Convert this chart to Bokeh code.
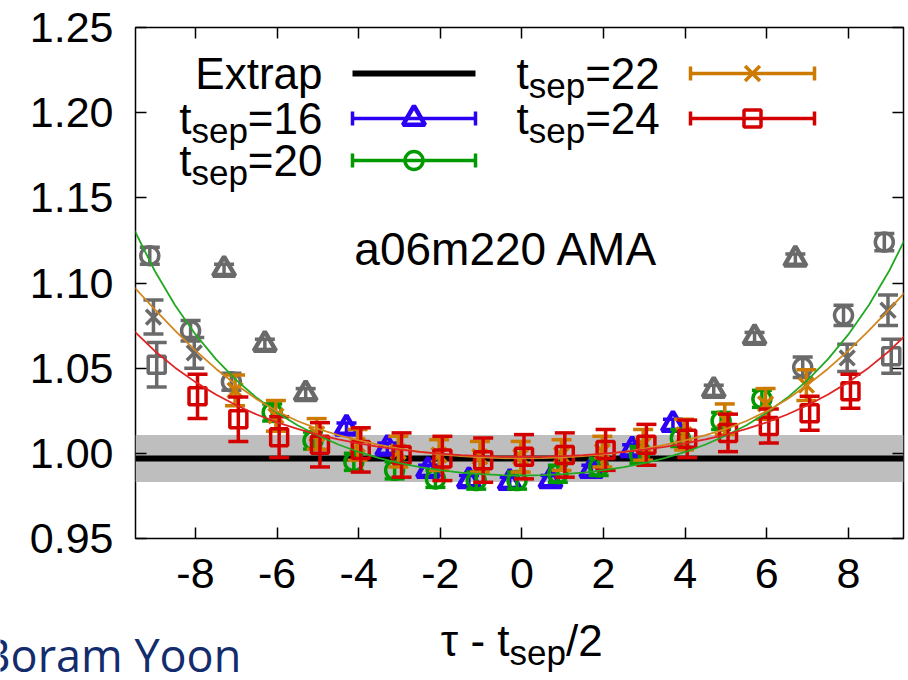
from bokeh.plotting import figure
from bokeh.models import FixedTicker, LinearAxis, Range1d, Label, BoxAnnotation, Span
from bokeh.layouts import column
from bokeh.embed import file_html
from bokeh.resources import INLINE

# ---------------- data ----------------
x_ticks = [-8, -6, -4, -2, 0, 2, 4, 6, 8]
x_tick_labels = ["-8", "-6", "-4", "-2", "0", "2", "4", "6", "8"]
y_ticks = [0.95, 1.00, 1.05, 1.10, 1.15, 1.20, 1.25]
y_tick_labels = ["0.95", "1.00", "1.05", "1.10", "1.15", "1.20", "1.25"]

extrap_value = 0.997
extrap_err = 0.0138

# t_sep = 16 (triangles)
ts16_x = [-7.3, -6.3, -5.3, -4.3, -3.3, -2.3, -1.3, -0.3, 0.7, 1.7, 2.7, 3.7, 4.7, 5.7, 6.7]
ts16_y = [1.108, 1.064, 1.035, 1.0148, 1.003, 0.990, 0.984, 0.983, 0.984, 0.990, 1.002, 1.017, 1.037, 1.068, 1.114]
ts16_e = [0.003, 0.003, 0.003, 0.003, 0.003, 0.003, 0.003, 0.003, 0.003, 0.003, 0.003, 0.003, 0.003, 0.003, 0.003]
ts16_fit = [0, 0, 0, 1, 1, 1, 1, 1, 1, 1, 1, 1, 0, 0, 0]

# t_sep = 20 (circles)
ts20_x = [-9.12, -8.12, -7.12, -6.12, -5.12, -4.12, -3.12, -2.12, -1.12, -0.12, 0.88, 1.88, 2.88, 3.88, 4.88, 5.88, 6.88, 7.88, 8.88]
ts20_y = [1.116, 1.072, 1.042, 1.024, 1.0075, 0.995, 0.990, 0.985, 0.984, 0.984, 0.988, 0.992, 0.999, 1.009, 1.019, 1.032, 1.0505, 1.081, 1.124]
ts20_e = [0.005, 0.006, 0.005, 0.005, 0.005, 0.005, 0.005, 0.005, 0.005, 0.005, 0.005, 0.005, 0.005, 0.005, 0.005, 0.005, 0.006, 0.006, 0.005]
ts20_fit = [0, 0, 0, 1, 1, 1, 1, 1, 1, 1, 1, 1, 1, 1, 1, 1, 0, 0, 0]

# t_sep = 22 (crosses)
ts22_x = [-9.03, -8.03, -7.03, -6.03, -5.03, -4.03, -3.03, -2.03, -1.03, -0.03, 0.97, 1.97, 2.97, 3.97, 4.97, 5.97, 6.97, 7.97, 8.97]
ts22_y = [1.080, 1.059, 1.037, 1.022, 1.0114, 1.005, 1.001, 0.999, 0.998, 0.998, 0.999, 1.001, 1.005, 1.011, 1.020, 1.029, 1.040, 1.056, 1.084]
ts22_e = [0.010, 0.009, 0.009, 0.009, 0.009, 0.009, 0.009, 0.009, 0.009, 0.009, 0.009, 0.009, 0.009, 0.009, 0.009, 0.009, 0.009, 0.008, 0.009]
ts22_fit = [0, 0, 1, 1, 1, 1, 1, 1, 1, 1, 1, 1, 1, 1, 1, 1, 1, 0, 0]

# t_sep = 24 (squares)
ts24_x = [-8.95, -7.95, -6.95, -5.95, -4.95, -3.95, -2.95, -1.95, -0.95, 0.05, 1.05, 2.05, 3.05, 4.05, 5.05, 6.05, 7.05, 8.05, 9.05]
ts24_y = [1.052, 1.0335, 1.020, 1.0095, 1.005, 1.002, 0.999, 0.997, 0.996, 0.998, 0.999, 1.002, 1.005, 1.0085, 1.012, 1.016, 1.0235, 1.0365, 1.057]
ts24_e = [0.013, 0.013, 0.013, 0.012, 0.013, 0.013, 0.013, 0.013, 0.013, 0.013, 0.013, 0.012, 0.012, 0.011, 0.011, 0.010, 0.010, 0.010, 0.010]
ts24_fit = [0, 1, 1, 1, 1, 1, 1, 1, 1, 1, 1, 1, 1, 1, 1, 1, 1, 1, 0]

# fit curves, read at half-unit steps
curve_x = [-9.5, -9.0, -8.5, -8.0, -7.5, -7.0, -6.5, -6.0, -5.5, -5.0, -4.5, -4.0, -3.5, -3.0, -2.5, -2.0, -1.5, -1.0, -0.5,
           0.0, 0.5, 1.0, 1.5, 2.0, 2.5, 3.0, 3.5, 4.0, 4.5, 5.0, 5.5, 6.0, 6.5, 7.0, 7.5, 8.0, 8.5, 9.0, 9.5]
curve20 = [1.1311, 1.1072, 1.0869, 1.0698, 1.0553, 1.0430, 1.0326, 1.0239, 1.0165, 1.0105, 1.0052, 1.0008, 0.9972, 0.9943, 0.9919, 0.9901, 0.9887, 0.9878, 0.9872,
           0.9870, 0.9872, 0.9878, 0.9887, 0.9901, 0.9919, 0.9943, 0.9972, 1.0008, 1.0052, 1.0105, 1.0165, 1.0239, 1.0326, 1.0430, 1.0553, 1.0698, 1.0869, 1.1072, 1.1311]
curve22 = [1.0975, 1.0845, 1.0720, 1.0603, 1.0497, 1.0402, 1.0318, 1.0247, 1.0190, 1.0144, 1.0107, 1.0076, 1.0049, 1.0027, 1.0009, 0.9994, 0.9984, 0.9976, 0.9972,
           0.9970, 0.9972, 0.9976, 0.9984, 0.9994, 1.0009, 1.0027, 1.0049, 1.0076, 1.0107, 1.0144, 1.0190, 1.0247, 1.0318, 1.0402, 1.0497, 1.0603, 1.0720, 1.0845, 1.0975]
curve24 = [1.0717, 1.0601, 1.0503, 1.0418, 1.0345, 1.0282, 1.0228, 1.0182, 1.0144, 1.0110, 1.0082, 1.0058, 1.0038, 1.0022, 1.0008, 0.9998, 0.9990, 0.9984, 0.9981,
           0.9980, 0.9981, 0.9984, 0.9990, 0.9998, 1.0008, 1.0022, 1.0038, 1.0058, 1.0082, 1.0110, 1.0144, 1.0182, 1.0228, 1.0282, 1.0345, 1.0418, 1.0503, 1.0601, 1.0717]

# ---------------- layout / style ----------------
FONT = "Liberation Sans"
W = 908
H1 = 610          # main chart
H2 = 70           # strip below: axis title + slide footer
FL, FR, FT, FB = 135, 5, 27, 72
FW = W - FL - FR
FH = H1 - FT - FB
XR = (-9.47, 9.35)
YR = (0.95, 1.25)
SX = FW / (XR[1] - XR[0])
SY = FH / (YR[1] - YR[0])


def X(px):  # page pixel -> data x
    return XR[0] + (px - FL) / SX


def Y(py):  # page pixel -> data y
    return YR[1] - (py - FT) / SY


GRAY = "#6a6a6a"
BLUE = "#2c00f2"
GREEN = "#009a00"
ORANGE = "#cc7a00"
RED = "#d40000"

p = figure(width=W, height=H1, x_range=Range1d(*XR), y_range=Range1d(*YR),
           output_backend="svg", toolbar_location=None,
           min_border_left=FL, min_border_right=FR, min_border_top=FT, min_border_bottom=FB)
p.frame_align = False
p.grid.visible = False
p.outline_line_color = "black"
p.outline_line_width = 1.5
p.background_fill_color = "white"
p.border_fill_color = "white"

TICK_FS = "43px"
p.xaxis.ticker = FixedTicker(ticks=x_ticks)
p.xaxis.major_label_overrides = {float(t): s for t, s in zip(x_ticks, x_tick_labels)}
p.yaxis.ticker = FixedTicker(ticks=y_ticks)
p.yaxis.major_label_overrides = {float(t): s for t, s in zip(y_ticks, y_tick_labels)}
for ax in (p.xaxis[0], p.yaxis[0]):
    ax.axis_line_color = None
    ax.major_tick_in = 11
    ax.major_tick_out = 0
    ax.major_tick_line_width = 1.5
    ax.minor_tick_line_color = None
    ax.major_label_text_font = FONT
    ax.major_label_text_font_size = TICK_FS
    ax.major_label_text_color = "black"
p.xaxis.major_label_standoff = 20
p.yaxis.major_label_standoff = 22

for loc, ticks in (("above", x_ticks), ("right", y_ticks)):
    ax = LinearAxis(ticker=FixedTicker(ticks=ticks), axis_line_color=None, major_tick_in=11,
                    major_tick_out=0, major_tick_line_width=1.5, minor_tick_line_color=None,
                    major_label_overrides={float(t): "" for t in ticks},
                    major_label_text_font_size="10px", major_label_standoff=0)
    p.add_layout(ax, loc)

# extrapolated band + line
p.add_layout(BoxAnnotation(bottom=extrap_value - extrap_err, top=extrap_value + extrap_err,
                           fill_color="#bebebe", fill_alpha=1.0, line_color=None, level="underlay"))
p.add_layout(Span(location=extrap_value, dimension="width", line_color="black",
                  line_width=6, level="underlay"))

CAP = 10.0 / SX  # half width of error-bar caps
LW = 3.5


def errbars(xs, ys, es, color, lw=LW):
    lo = [y - e for y, e in zip(ys, es)]
    hi = [y + e for y, e in zip(ys, es)]
    p.segment(x0=xs, y0=lo, x1=xs, y1=hi, line_color=color, line_width=lw)
    p.segment(x0=[x - CAP for x in xs], y0=lo, x1=[x + CAP for x in xs], y1=lo, line_color=color, line_width=lw)
    p.segment(x0=[x - CAP for x in xs], y0=hi, x1=[x + CAP for x in xs], y1=hi, line_color=color, line_width=lw)


MARK = {
    "triangle": dict(marker="triangle", size=22, line_width=4.5),
    "circle": dict(marker="circle", size=18, line_width=LW),
    "x": dict(marker="x", size=21, line_width=LW),
    "square": dict(marker="square", size=17, line_width=LW),
}

series = [
    (ts16_x, ts16_y, ts16_e, ts16_fit, BLUE, "triangle"),
    (ts20_x, ts20_y, ts20_e, ts20_fit, GREEN, "circle"),
    (ts22_x, ts22_y, ts22_e, ts22_fit, ORANGE, "x"),
    (ts24_x, ts24_y, ts24_e, ts24_fit, RED, "square"),
]


def draw_points(xs, ys, es, color, mk):
    if not xs:
        return
    errbars(xs, ys, es, color)
    p.scatter(x=xs, y=ys, line_color=color, fill_alpha=0, **MARK[mk])


# excluded points (gray) first, then points used in the fits
for xs, ys, es, fit, color, mk in series:
    sel = [i for i, f in enumerate(fit) if not f]
    draw_points([xs[i] for i in sel], [ys[i] for i in sel], [es[i] for i in sel], GRAY, mk)
for xs, ys, es, fit, color, mk in series:
    sel = [i for i, f in enumerate(fit) if f]
    draw_points([xs[i] for i in sel], [ys[i] for i in sel], [es[i] for i in sel], color, mk)

# fit curves
p.line(curve_x, curve20, line_color="#22a822", line_width=1.8)
p.line(curve_x, curve22, line_color="#d2861e", line_width=1.8)
p.line(curve_x, curve24, line_color="#e02424", line_width=1.8)

# ---------------- texts ----------------
AW = {'t': 0.278, 's': 0.5, 'e': 0.556, 'p': 0.556, '=': 0.584, '/': 0.278, ' ': 0.278, '-': 0.333,
      '0': 0.556, '1': 0.556, '2': 0.556, '3': 0.556, '4': 0.556, '5': 0.556, '6': 0.556, '7': 0.556,
      '8': 0.556, '9': 0.556}


def tw(s, fs):
    return sum(AW[c] for c in s) * fs


def text(fig, x, y, s, fs, align="left", color="black", font=FONT):
    fig.add_layout(Label(x=x, y=y, text=s, text_font=font, text_font_size=f"{fs}px",
                         text_align=align, text_baseline="middle", text_color=color))


LF = 44
SF = 35
SUB = 12   # subscript drop (px)

# legend
legend_rows_left = [("Extrap", None, None, 73), ("16", BLUE, "triangle", 118), ("20", GREEN, "circle", 160)]
legend_rows_right = [("22", ORANGE, "x", 73), ("24", RED, "square", 118)]

for lab, color, mk, ry in legend_rows_left:
    if color is None:
        text(p, X(322), Y(ry), lab, LF, align="right")
        p.segment(x0=[X(352)], y0=[Y(ry)], x1=[X(475)], y1=[Y(ry)], line_color="black", line_width=6)
        continue
    eq = "=" + lab
    text(p, X(322), Y(ry), eq, LF, align="right")
    xs_ = 322 - tw(eq, LF)
    text(p, X(xs_), Y(ry + SUB), "sep", SF, align="right")
    text(p, X(xs_ - tw("sep", SF)), Y(ry), "t", LF, align="right")

for lab, color, mk, ry in legend_rows_right:
    text(p, X(516), Y(ry), "t", LF)
    text(p, X(516 + tw("t", LF)), Y(ry + SUB), "sep", SF)
    text(p, X(516 + tw("t", LF) + tw("sep", SF)), Y(ry), "=" + lab, LF)

for (lab, color, mk, ry), (x0, x1) in zip(legend_rows_left[1:] + legend_rows_right,
                                         [(352, 475), (352, 475), (690, 814), (690, 814)]):
    p.segment(x0=[X(x0)], y0=[Y(ry)], x1=[X(x1)], y1=[Y(ry)], line_color=color, line_width=LW)
    for xe in (x0, x1):
        p.segment(x0=[X(xe)], y0=[Y(ry - 7)], x1=[X(xe)], y1=[Y(ry + 7)], line_color=color, line_width=LW)
    p.scatter(x=[X((x0 + x1) / 2)], y=[Y(ry)], line_color=color, fill_alpha=0, **MARK[mk])

# ensemble label
text(p, X(506), Y(248), "a06m220 AMA", 46, align="center")

# ---------------- strip below the chart ----------------
q = figure(width=W, height=H2, x_range=Range1d(0, W), y_range=Range1d(H1 + H2, H1),
           output_backend="svg", toolbar_location=None, x_axis_type=None, y_axis_type=None,
           min_border=0)
q.frame_align = False
q.grid.visible = False
q.outline_line_color = None
q.background_fill_color = "white"
q.border_fill_color = "white"

# x-axis title: tau - t_sep/2
AX_B = 509
text(q, AX_B, 640, "\u03c4 - t", LF, align="right")
text(q, AX_B, 640 + SUB, "sep", SF)
text(q, AX_B + tw("sep", SF), 640, "/2", LF)

# footer of the slide
text(q, -19, 654, "Boram Yoon", 45, color="#142c6c", font="Open Sans")

open("out.html", "w").write(file_html(column(p, q, spacing=0), INLINE))
